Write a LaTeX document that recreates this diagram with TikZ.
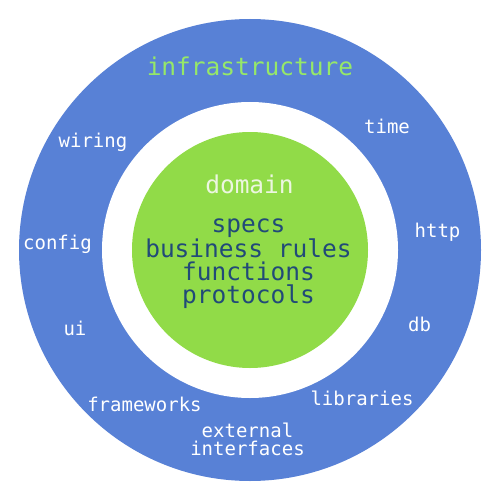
\documentclass[tikz,border=0pt]{standalone}
\usepackage{fontspec}
\newfontfamily\monofam{DejaVu Sans Mono}
\definecolor{ringblue}{RGB}{88,129,214}
\definecolor{coregreen}{RGB}{145,219,72}
\definecolor{infragreen}{RGB}{150,232,104}
\definecolor{domainwhite}{RGB}{236,246,224}
\definecolor{coretext}{RGB}{33,74,120}
\begin{document}
\begin{tikzpicture}[x=1pt,y=-1pt,
  big/.style={font=\monofam\fontsize{24.5}{23}\selectfont, inner sep=0pt, align=center},
  small/.style={font=\monofam\fontsize{19}{18}\selectfont, inner sep=0pt, align=center, text=white},
]
\useasboundingbox (0,0) rectangle (500,500);
\fill[white] (0,0) rectangle (500,500);
\node[circle, fill=ringblue, minimum size=462pt, inner sep=0pt] (outer) at (250,250) {};
\node[circle, fill=white, minimum size=296pt, inner sep=0pt] (gap) at (250,250) {};
\node[circle, fill=coregreen, minimum size=236pt, inner sep=0pt] (core) at (250,250) {};

\node[big, text=infragreen, anchor=base] (infra) at (250,76) {infrastructure};
\node[big, text=domainwhite, anchor=base] (domain) at (249.5,193) {domain};
\node[big, text=coretext, anchor=center] (rules) at (248.5,264) {specs\\business rules\\functions\\protocols};

\node[small, anchor=base] (wiring) at (93,147) {wiring};
\node[small, anchor=base] (time) at (387,133) {time};
\node[small, anchor=base] (config) at (57.5,249) {config};
\node[small, anchor=base] (http) at (437.5,237) {http};
\node[small, anchor=base] (ui) at (75,335) {ui};
\node[small, anchor=base] (db) at (419.5,331) {db};
\node[small, anchor=base] (frameworks) at (144.5,411) {frameworks};
\node[small, anchor=base] (libraries) at (362,405) {libraries};
\node[small, anchor=center] (external) at (247.5,439) {external\\interfaces};
\end{tikzpicture}
\end{document}
